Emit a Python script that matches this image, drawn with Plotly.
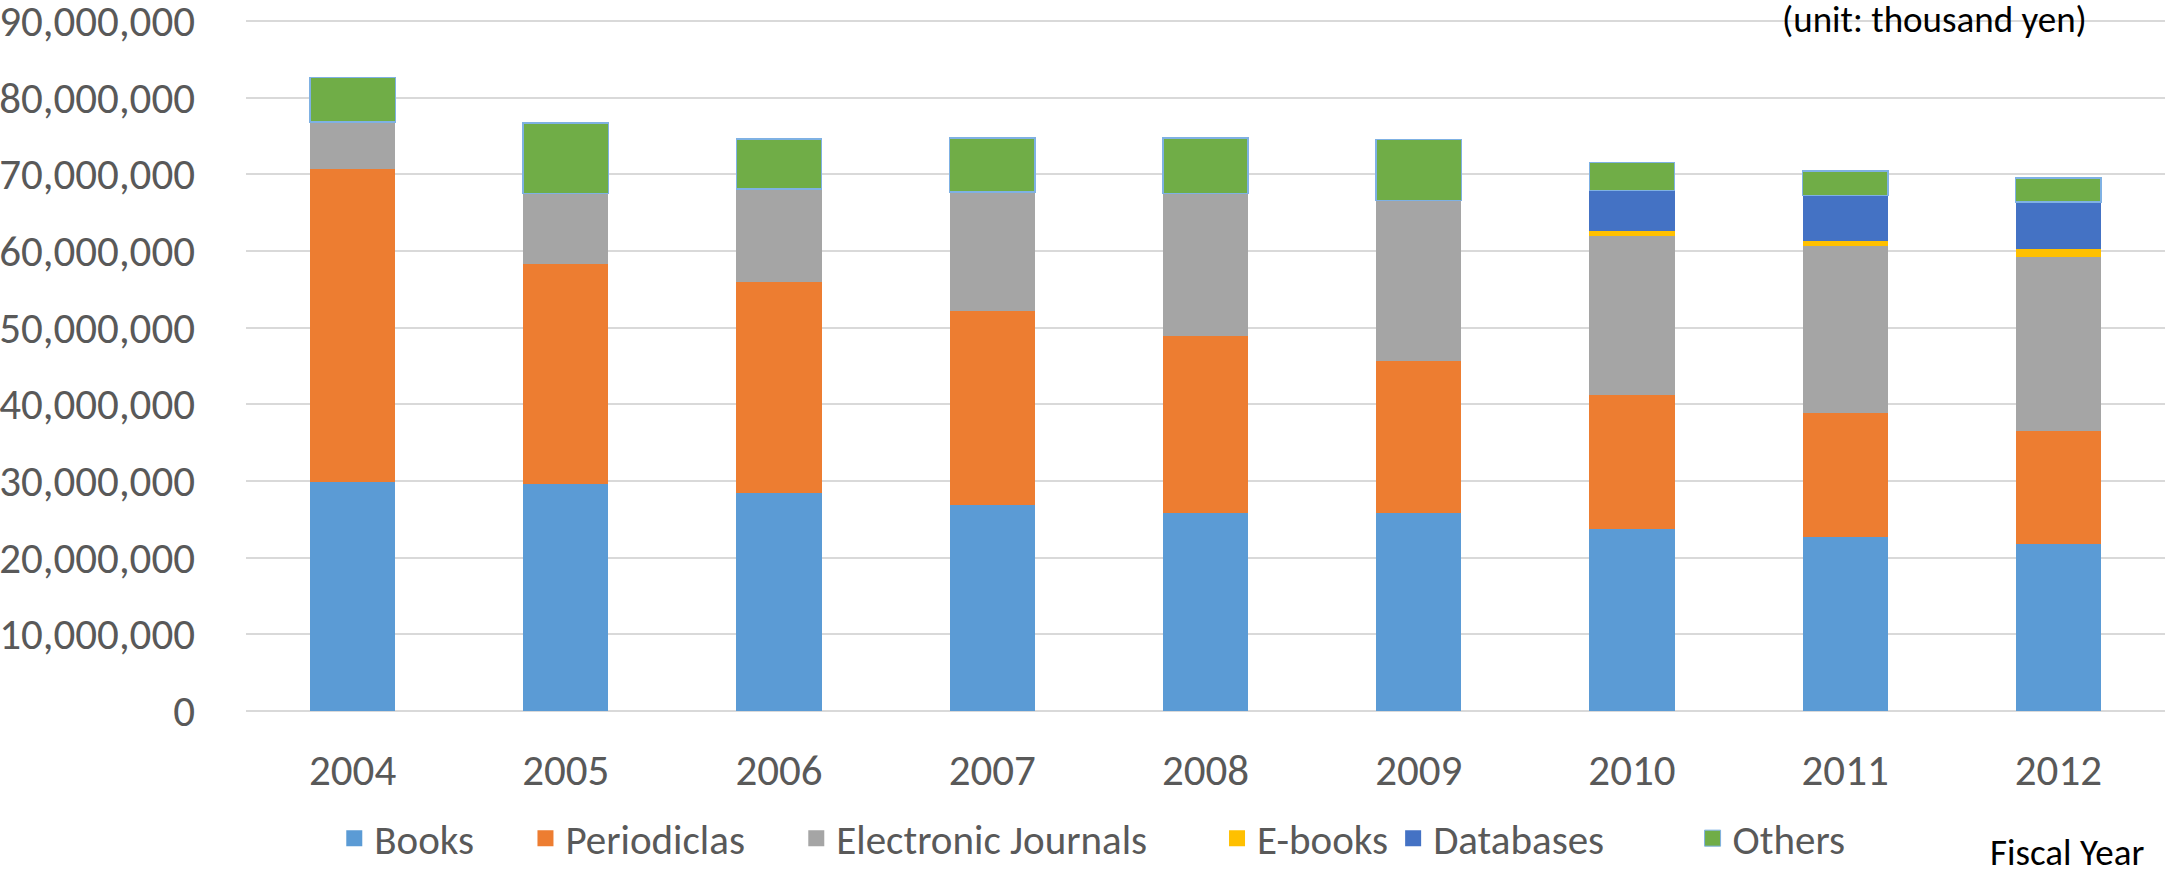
import plotly.graph_objects as go

years = ["2004", "2005", "2006", "2007", "2008", "2009", "2010", "2011", "2012"]
books = [29.9, 29.6, 28.4, 26.9, 25.8, 25.8, 23.7, 22.7, 21.8]
periodicals = [40.8, 28.7, 27.5, 25.3, 23.1, 19.9, 17.5, 16.15, 14.7]
e_journals = [6.1, 9.2, 12.2, 15.5, 18.6, 20.9, 20.75, 21.8, 22.75]
e_books = [0, 0, 0, 0, 0, 0, 0.65, 0.7, 1.0]
databases = [0, 0, 0, 0, 0, 0, 5.3, 5.85, 6.1]
others = [5.8, 9.2, 6.5, 7.05, 7.2, 7.9, 3.65, 3.25, 3.15]

names = ["Books", "Periodiclas", "Electronic Journals", "E-books", "Databases", "Others"]
colors = ["#5B9BD5", "#ED7D31", "#A5A5A5", "#FFC000", "#4472C4", "#70AD47"]
series = [books, periodicals, e_journals, e_books, databases, others]

FONT = "Carlito, Calibri, Lato, sans-serif"
PADS = [5, 5, 7, 0, 9, 0]

fig = go.Figure()
for name, col, vals in zip(names, colors, series):
    is_other = name == "Others"
    fig.add_trace(go.Bar(
        x=years, y=[v * 1e6 for v in vals], name=name,
        marker=dict(color=col,
                    line=dict(color="#7FB1E3" if is_other else col,
                              width=1.5 if is_other else 0)),
        showlegend=False,
    ))
for name, col, pad in zip(names, colors, PADS):
    is_other = name == "Others"
    fig.add_trace(go.Scatter(
        x=[None], y=[None], mode="markers", name=name + "\u00a0" * pad,
        marker=dict(symbol="square", size=16, color=col,
                    line=dict(color="#7FB1E3" if is_other else col, width=1 if is_other else 0)),
        showlegend=True,
    ))

fig.update_layout(
    width=2165, height=872,
    barmode="stack", bargap=0.6,
    plot_bgcolor="white", paper_bgcolor="white",
    margin=dict(l=246, r=0, t=17, b=157),
    font=dict(family=FONT, size=42, color="#595959"),
    legend=dict(orientation="h", x=0.441, xanchor="center", y=-0.184, yanchor="middle",
                traceorder="normal",
                font=dict(family=FONT, size=41, color="#595959"), itemsizing="trace",
                bgcolor="rgba(0,0,0,0)"),
    xaxis=dict(type="category", showgrid=False, showline=False, ticks="", automargin=False,
               ticklabelstandoff=30, tickfont=dict(size=43, color="#595959")),
    yaxis=dict(range=[0, 90.5e6], tickvals=[i * 10e6 for i in range(10)], tickformat=",",
               showgrid=True, automargin=False, ticklabeloverflow="allow",
               gridcolor="#D9D9D9", gridwidth=2, zeroline=True, zerolinecolor="#D9D9D9",
               zerolinewidth=2, showline=False, ticks="", ticklabelstandoff=50,
               tickfont=dict(size=43, color="#595959")),
    annotations=[
        dict(text="(unit: thousand yen)", xref="paper", yref="paper", x=0.880, y=0.996,
             xanchor="center", yanchor="middle", showarrow=False,
             font=dict(family=FONT, size=37, color="#000000")),
        dict(text="Fiscal Year", xref="paper", yref="paper", x=0.949, y=-0.2046,
             xanchor="center", yanchor="middle", showarrow=False,
             font=dict(family=FONT, size=37, color="#000000")),
    ],
)

fig.write_html("out.html", config={"displayModeBar": False},
               post_script="document.body.style.margin='0';document.body.style.padding='0';")
